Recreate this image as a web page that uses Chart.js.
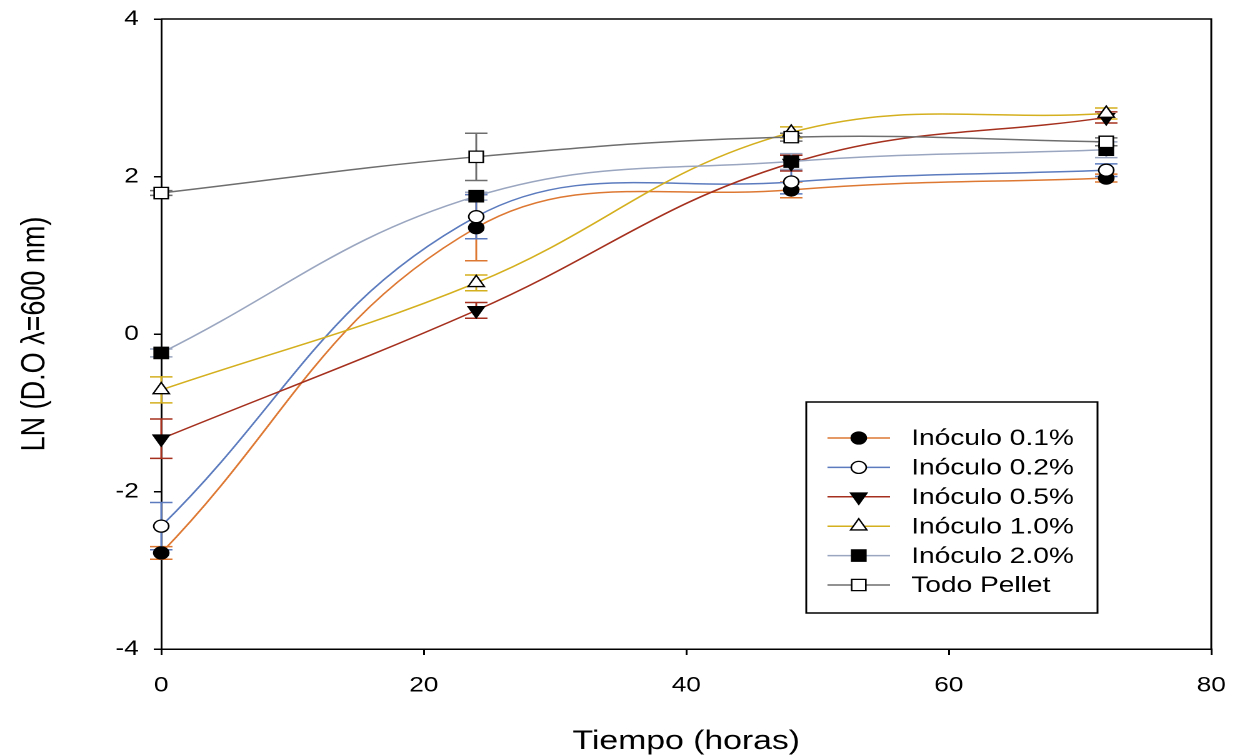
<!DOCTYPE html>
<html>
<head>
<meta charset="utf-8">
<script src="https://cdn.jsdelivr.net/npm/chart.js@4/dist/chart.umd.min.js"></script>
<style>
html, body { margin: 0; padding: 0; background: #fff; overflow: hidden; }
/* the original picture is stretched sideways, so the canvas is too */
#wrap { width: 989px; height: 755px; transform: scale(1.25, 1); transform-origin: 0 0; }
</style>
</head>
<body>
<div id="wrap"><canvas id="growthChart" width="989" height="755"></canvas></div>
<script>
const tiempo = [0, 24, 48, 72];

const serieNames = ['Inóculo 0.1%', 'Inóculo 0.2%', 'Inóculo 0.5%', 'Inóculo 1.0%', 'Inóculo 2.0%', 'Todo Pellet'];

const inoc01 = [-2.78, 1.35, 1.83, 1.98];
const inoc02 = [-2.44, 1.49, 1.93, 2.08];
const inoc05 = [-1.33, 0.30, 2.17, 2.75];
const inoc10 = [-0.71, 0.65, 2.56, 2.80];
const inoc20 = [-0.24, 1.75, 2.19, 2.34];
const pellet = [1.79, 2.25, 2.50, 2.44];

const err01 = [0.08, 0.42, 0.10, 0.05];
const err02 = [0.30, 0.28, 0.15, 0.08];
const err05 = [0.25, 0.10, 0.10, 0.07];
const err10 = [0.165, 0.10, 0.07, 0.07];
const err20 = [0.05, 0.05, 0.10, 0.10];
const errPel = [0.03, 0.30, 0.05, 0.05];

const yTicks = [-4, -2, 0, 2, 4];
const xTicks = [0, 20, 40, 60, 80];

const series = [
  { y: inoc01, e: err01, color: '#DD7833', style: 'circle', fill: '#000', r: 6, rot: 0 },
  { y: inoc02, e: err02, color: '#5B7BBE', style: 'circle', fill: '#fff', r: 6, rot: 0 },
  { y: inoc05, e: err05, color: '#A5301E', style: 'triangle', fill: '#000', r: 7.5, rot: 180 },
  { y: inoc10, e: err10, color: '#D4AF1E', style: 'triangle', fill: '#fff', r: 7.5, rot: 0 },
  { y: inoc20, e: err20, color: '#9AA6C0', style: 'rect', fill: '#000', r: 8, rot: 0 },
  { y: pellet, e: errPel, color: '#6E6E6E', style: 'rect', fill: '#fff', r: 8, rot: 0 },
];

const datasets = series.map((s, i) => ({
  label: serieNames[i],
  data: tiempo.map((t, k) => ({ x: t, y: s.y[k] })),
  errors: s.e,
  borderColor: s.color,
  borderWidth: 1.5,
  tension: 0.4,
  pointStyle: s.style,
  pointRotation: s.rot,
  pointRadius: s.r,
  pointBackgroundColor: s.fill,
  pointBorderColor: '#000',
  pointBorderWidth: 1.3,
  clip: false,
  order: series.length - i,
}));

// vertical error bars with caps, drawn under the markers
const errorBars = {
  id: 'errorBars',
  beforeDatasetsDraw(chart) {
    const ctx = chart.ctx;
    const xs = chart.scales.x, ys = chart.scales.y;
    ctx.save();
    ctx.lineWidth = 1.5;
    chart.data.datasets.forEach(ds => {
      ctx.strokeStyle = ds.borderColor;
      ds.data.forEach((p, k) => {
        const e = ds.errors[k];
        const px = xs.getPixelForValue(p.x);
        const top = ys.getPixelForValue(p.y + e);
        const bot = ys.getPixelForValue(p.y - e);
        ctx.beginPath();
        ctx.moveTo(px, top); ctx.lineTo(px, bot);
        ctx.moveTo(px - 9, top); ctx.lineTo(px + 9, top);
        ctx.moveTo(px - 9, bot); ctx.lineTo(px + 9, bot);
        ctx.stroke();
      });
    });
    ctx.restore();
  }
};

// top and right sides of the frame
const frame = {
  id: 'frame',
  afterDraw(chart) {
    const { left, right, top, bottom } = chart.chartArea;
    const ctx = chart.ctx;
    ctx.save();
    ctx.strokeStyle = '#000';
    ctx.lineWidth = 1.5;
    ctx.beginPath();
    ctx.moveTo(left, top); ctx.lineTo(right, top); ctx.lineTo(right, bottom);
    ctx.stroke();
    ctx.restore();
  }
};

// boxed legend inside the plot, line + marker + text per row
const boxLegend = {
  id: 'boxLegend',
  afterDraw(chart) {
    const ctx = chart.ctx;
    const bx = 645, by = 402, bw = 233, bh = 211;
    ctx.save();
    ctx.fillStyle = '#fff';
    ctx.fillRect(bx, by, bw, bh);
    ctx.strokeStyle = '#000';
    ctx.lineWidth = 1.5;
    ctx.strokeRect(bx, by, bw, bh);
    ctx.font = '22.5px "Liberation Sans", Arial, sans-serif';
    ctx.textBaseline = 'middle';
    chart.data.datasets.forEach((ds, i) => {
      const y = by + 36 + i * 29.4;
      ctx.strokeStyle = ds.borderColor;
      ctx.lineWidth = 1.5;
      ctx.beginPath();
      ctx.moveTo(bx + 17, y); ctx.lineTo(bx + 67, y);
      ctx.stroke();
      ctx.fillStyle = ds.pointBackgroundColor;
      ctx.strokeStyle = '#000';
      ctx.lineWidth = 1.3;
      Chart.helpers.drawPoint(ctx, {
        pointStyle: ds.pointStyle, rotation: ds.pointRotation,
        radius: ds.pointRadius, borderWidth: 1.3
      }, bx + 42, y);
      ctx.fillStyle = '#000';
      ctx.fillText(ds.label, bx + 84, y + 1);
    });
    ctx.restore();
  }
};

new Chart(document.getElementById('growthChart'), {
  type: 'line',
  data: { datasets },
  plugins: [errorBars, frame, boxLegend],
  options: {
    responsive: false,
    devicePixelRatio: 2,
    animation: false,
    events: [],
    layout: { padding: { top: 19, right: 20, left: 0, bottom: 0 } },
    plugins: { legend: { display: false }, tooltip: { enabled: false } },
    scales: {
      x: {
        type: 'linear',
        min: 0, max: 80,
        afterFit(scale) {
          scale.height = 106;
          scale.paddingLeft = 0;
          scale.paddingRight = 0;
        },
        afterBuildTicks(scale) { scale.ticks = xTicks.map(v => ({ value: v })); },
        grid: { drawOnChartArea: false, color: '#000', lineWidth: 1.5, tickLength: 6 },
        border: { color: '#000', width: 1.5 },
        ticks: { color: '#000', padding: 18, maxRotation: 0,
                 font: { family: '"Liberation Sans", Arial, sans-serif', size: 21 } },
        title: { display: true, text: 'Tiempo (horas)', color: '#000',
                 padding: { top: 0, bottom: 0 },
                 font: { family: '"Liberation Sans", Arial, sans-serif', size: 27, lineHeight: 1 } }
      },
      y: {
        min: -4, max: 4,
        afterFit(scale) {
          scale.width = 129;
          scale.paddingTop = 0;
          scale.paddingBottom = 0;
        },
        afterBuildTicks(scale) { scale.ticks = yTicks.map(v => ({ value: v })); },
        grid: { drawOnChartArea: false, color: '#000', lineWidth: 1.5, tickLength: 6 },
        border: { color: '#000', width: 1.5 },
        ticks: { color: '#000', padding: 12,
                 font: { family: '"Liberation Sans", Arial, sans-serif', size: 21 } },
        title: { display: true, text: 'LN (D.O λ=600 nm)', color: '#000',
                 padding: { top: 12, bottom: 0 },
                 font: { family: '"Liberation Sans", Arial, sans-serif', size: 27 } }
      }
    }
  }
});
</script>
</body>
</html>
